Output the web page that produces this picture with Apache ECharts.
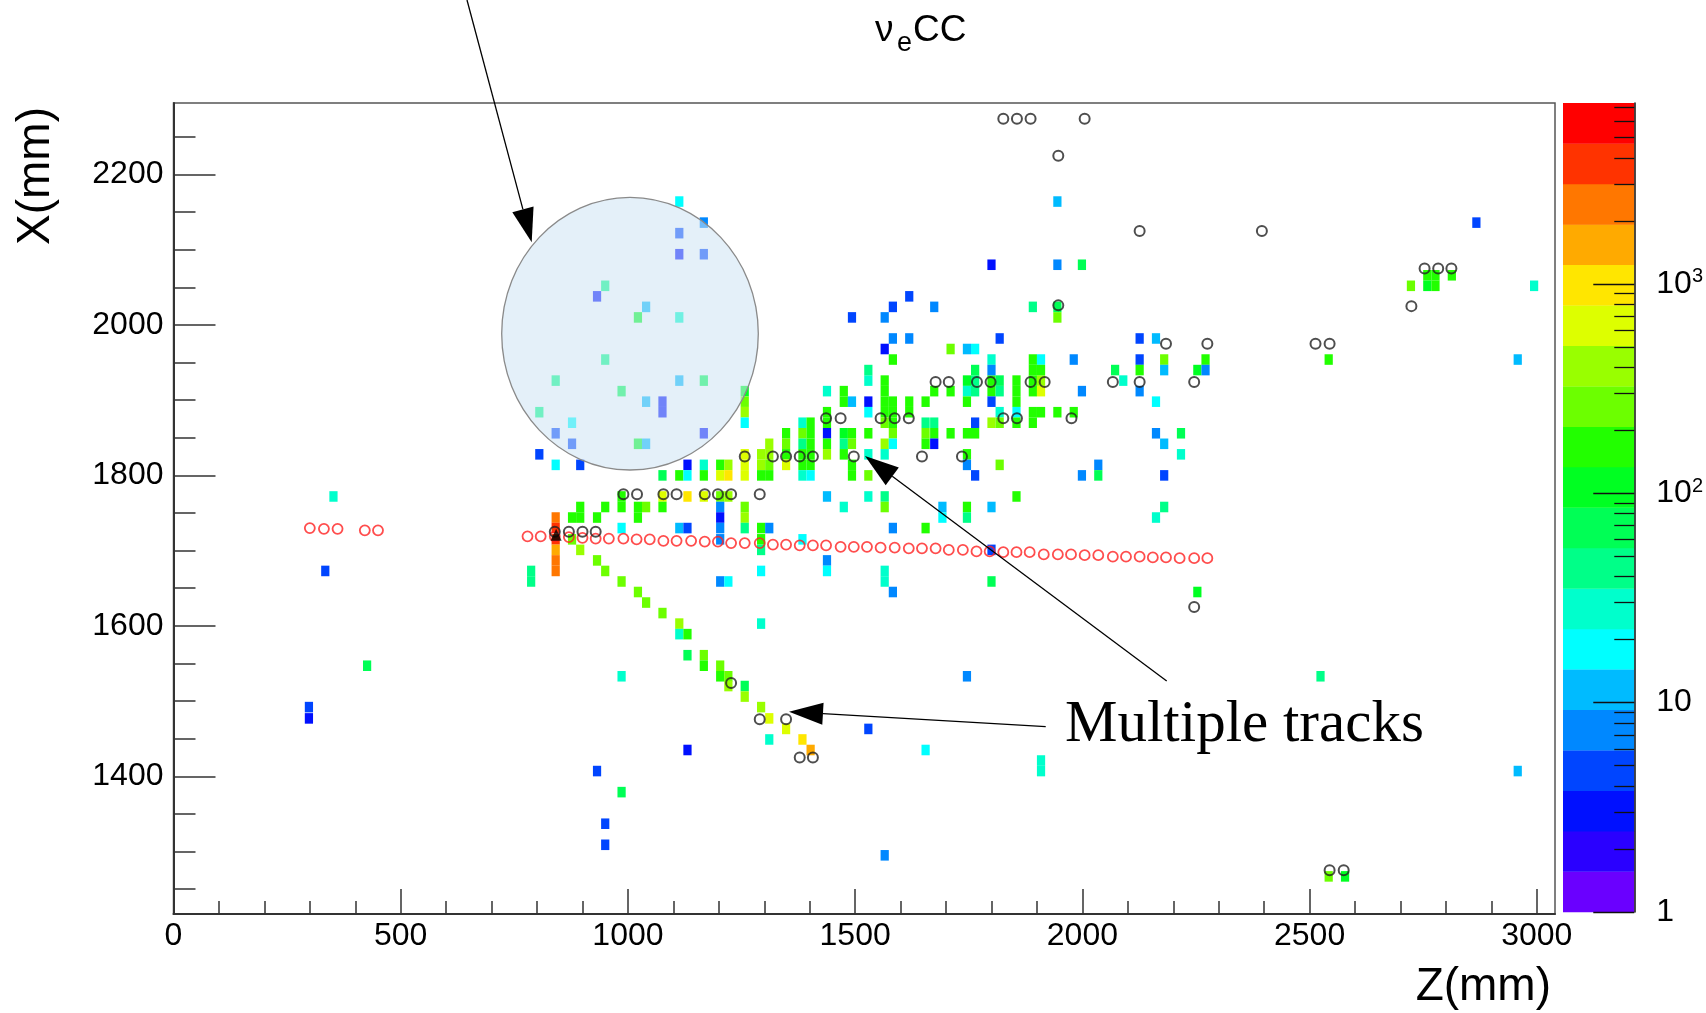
<!DOCTYPE html>
<html><head><meta charset="utf-8">
<script src="https://cdn.jsdelivr.net/npm/echarts@6/dist/echarts.min.js"></script>
<style>html,body{margin:0;padding:0;background:#fff}#c{width:1706px;height:1013px}</style>
</head><body><div id="c"></div>
<script>
// ---------- data ----------
const Z_RANGE = [0, 3040];          // Z (mm) axis range
const X_RANGE = [1217, 2295];       // X (mm) axis range
const Z_MAJOR = [0, 500, 1000, 1500, 2000, 2500, 3000];
const Z_MINOR = [100,200,300,400,600,700,800,900,1100,1200,1300,1400,1600,1700,1800,1900,2100,2200,2300,2400,2600,2700,2800,2900];
const X_MAJOR = [1400, 1600, 1800, 2000, 2200];
const X_MINOR = [1250,1300,1350,1450,1500,1550,1650,1700,1750,1850,1900,1950,2050,2100,2150,2250];
const COUNT_MAX = 7310;             // top of colour scale
const COLOR_DECADES = [0, 1, 2, 3]; // log10 of 1, 10, 100, 1000

// cells: [Z centre mm, X centre mm, counts]
const vertexCells = [
 [841,1744,2420],[841,1730,3800],[841,1715,3800],[841,1701,1550],[841,1687,2420],[841,1673,2420],
 [787,1673,44],[787,1659,44]
];
const lowerTrackCells = [
 [877,1715,260],[895,1701,407],[932,1687,260],[950,1673,260],[986,1659,260],
 [1022,1645,260],[1040,1631,260],[1076,1617,260],[1113,1603,407],[1113,1589,28],[1131,1589,167],
 [1131,1561,69],[1167,1561,260],[1167,1547,167],[1203,1547,260],[1203,1533,167],[1221,1533,260],
 [1221,1520,407],[1257,1520,69],[1257,1506,407],[1293,1492,407],[1311,1477,634],[1348,1463,634],
 [1311,1449,28],[1384,1449,990],[1402,1435,1550]
];
const circledCells = [
 [950,2052,44],[932,2038,3],[950,1954,44],[1113,2122,5],[1113,2094,3],[1167,2094,5],[1040,2024,12],
 [1022,2010,107],[1113,2010,28],[841,1926,44],[986,1912,69],[805,1884,44],[877,1870,18],[841,1856,5],
 [877,1842,5],[1113,1926,12],[1167,1926,69],[1040,1898,12],[1076,1898,3],[1076,1884,3],[1167,1856,3],
 [1022,1842,107],[1040,1842,12],[1113,2164,18],[1167,2136,7]
];
const showerCells = [
 [805,1828,5],[841,1814,18],[895,1814,5],
 [986,1772,167],[986,1758,167],[895,1758,167],[895,1744,167],[877,1744,167],[950,1758,167],[932,1744,167],[986,1730,18],
 [1529,1926,28],[1565,1926,167],[1746,1926,107],[1764,1926,44],[1800,1926,167],[1818,1926,69],[1855,1926,167],[1891,1926,167],[1909,1926,407],
 [1257,1912,107],[1438,1912,28],[1475,1912,167],[1565,1912,167],[1674,1912,167],[1710,1912,167],[1746,1912,28],[1764,1912,44],[1800,1912,167],[1818,1912,44],[1855,1912,167],[1891,1912,167],[1909,1912,634],[1999,1912,7],
 [1257,1898,260],[1475,1898,167],[1493,1898,12],[1529,1898,3],[1565,1898,167],[1583,1898,167],[1619,1898,167],[1655,1898,167],[1746,1898,167],[1800,1898,5],[1855,1898,167],
 [1257,1884,407],[1438,1884,167],[1529,1884,18],[1565,1884,167],[1583,1884,167],[1619,1884,167],[1818,1884,28],[1855,1884,18],[1891,1884,167],[1909,1884,167],[1945,1884,167],[1981,1884,167],
 [1257,1870,18],[1384,1870,28],[1402,1870,167],[1438,1870,167],[1565,1870,260],[1583,1870,167],[1655,1870,44],[1674,1870,44],[1764,1870,5],[1800,1870,407],[1818,1870,260],[1855,1870,167],[1891,1870,167],
 [1348,1856,167],[1384,1856,260],[1402,1856,167],[1438,1856,3],[1475,1856,107],[1493,1856,167],[1529,1856,167],[1583,1856,260],[1655,1856,260],[1674,1856,167],[1710,1856,167],[1746,1856,167],[1764,1856,167],
 [1311,1842,407],[1348,1842,260],[1384,1842,44],[1402,1842,167],[1438,1842,167],[1475,1842,44],[1493,1842,260],[1565,1842,407],[1583,1842,18],[1655,1842,167],[1674,1842,3],
 [1257,1828,634],[1293,1828,407],[1311,1828,407],[1348,1828,167],[1384,1828,167],[1402,1828,167],[1438,1828,407],[1475,1828,167],[1529,1828,28],[1565,1828,28],[1746,1828,167],
 [1131,1814,3],[1167,1814,28],[1203,1814,167],[1221,1814,407],[1257,1814,634],[1293,1814,407],[1311,1814,260],[1348,1814,634],[1384,1814,167],[1402,1814,167],[1493,1814,167],[1746,1814,7],[1818,1814,260],
 [1076,1800,69],[1113,1800,167],[1131,1800,18],[1167,1800,167],[1203,1800,634],[1221,1800,990],[1257,1800,634],[1293,1800,167],[1311,1800,167],[1384,1800,28],[1402,1800,18],[1493,1800,167],[1529,1800,260],[1764,1800,5],[1999,1800,7],
 [1076,1772,634],[1131,1772,990],[1167,1772,634],[1203,1772,260],[1221,1772,407],[1438,1772,12],[1529,1772,28],[1565,1772,44],[1855,1772,167],
 [1022,1758,167],[1040,1758,260],[1076,1758,167],[1203,1758,7],[1257,1758,260],[1475,1758,28],[1565,1758,260],[1692,1758,12],[1746,1758,167],[1800,1758,12],
 [1022,1744,167],[1203,1744,3],[1257,1744,407],[1692,1744,18],[1746,1744,44],
 [1113,1730,12],[1131,1730,5],[1203,1730,7],[1257,1730,44],[1293,1730,167],[1311,1730,7],[1583,1730,7],[1655,1730,167],
 [1203,1715,7],[1293,1715,167],[1384,1715,18],
 [1293,1701,44],[1800,1701,5],
 [1438,1687,7],
 [1293,1673,18],[1438,1673,18],[1565,1673,28],
 [1203,1659,7],[1221,1659,18],[1565,1659,28],[1800,1659,69],
 [1583,1645,7],[1293,1603,28]
];
const upperCells = [
 [1945,2164,12],[1800,2080,3],[1945,2080,7],[1999,2080,69],[1619,2038,5],[1583,2024,5],[1674,2024,7],
 [1891,2024,44],[1945,2024,69],[1493,2010,5],[1565,2010,7],[1945,2010,260],[1583,1982,7],[1619,1982,7],
 [1818,1982,5],[1565,1968,3],[1710,1968,260],[1746,1968,12],[1764,1968,18],[1583,1954,167],[1800,1954,28],
 [1891,1954,167],[1909,1954,18],[1981,1954,7],[1529,1940,44],[1764,1940,69],[1800,1940,7],[1891,1940,167],[1909,1940,167]
];
const rightCells = [
 [2867,2136,5],[2759,2066,167],[2777,2066,167],[2759,2052,107],[2777,2052,167],[2813,2066,167],[2723,2052,260],
 [2994,2052,28],[2126,1982,5],[2162,1982,12],[2126,1954,5],[2180,1954,260],[2271,1954,167],[2542,1954,167],
 [2958,1954,12],[2072,1940,69],[2126,1940,167],[2180,1940,12],[2253,1940,107],[2271,1940,7],
 [2090,1926,28],[2126,1912,7],[2162,1898,18],[2162,1856,7],[2217,1856,69],[2180,1842,12],[2217,1828,28],
 [2035,1814,7],[2035,1800,69],[2180,1800,5],[2180,1758,44],[2162,1744,28],[2253,1645,107]
];
const isolatedCells = [
 [352,1772,28],[334,1673,5],[426,1547,69],[986,1533,28],[298,1492,5],[298,1477,3],[932,1407,5],
 [986,1379,69],[950,1337,5],[950,1309,5],[1131,1435,3],[1529,1463,5],[1746,1533,7],[1655,1435,18],
 [1909,1421,28],[1909,1407,28],[1565,1295,7],[2524,1533,44],[2958,1407,12],[2542,1267,260],[2578,1267,107]
];
// reconstructed hits: [Z, X]
const blackHits = [
 [1826,2274],[1856,2274],[1886,2274],[2005,2274],[1947,2225],[1947,2026],
 [2126,2125],[2395,2125],[2753,2075],[2783,2075],[2812,2075],[2724,2025],
 [2184,1975],[2275,1975],[2513,1975],[2544,1975],
 [1677,1924],[1706,1924],[1768,1924],[1798,1924],[1886,1924],[1917,1924],[2067,1924],[2126,1924],[2246,1924],
 [1436,1876],[1468,1876],[1556,1876],[1587,1876],[1618,1876],[1826,1876],[1856,1876],[1976,1876],
 [1257,1825],[1319,1825],[1348,1825],[1378,1825],[1407,1825],[1497,1825],[1647,1825],[1735,1825],
 [990,1775],[1020,1775],[1078,1775],[1107,1775],[1169,1775],[1198,1775],[1227,1775],[1290,1775],
 [839,1725],[870,1725],[900,1725],[929,1725],
 [1227,1524],[1290,1476],[1348,1476],[1378,1425],[1407,1425],
 [2246,1625],[2544,1275],[2575,1275]
];
const redTrack = [
 [300,1730],[331,1729],[361,1729],[421,1727],[450,1727],
 [779,1719],[808,1719],[839,1719],[870,1718],[900,1717],[929,1716],[958,1716],[990,1716],[1019,1715],
 [1048,1715],[1078,1713],[1107,1713],[1139,1713],[1169,1712],[1198,1712],[1227,1710],[1257,1710],[1290,1710],
 [1319,1708],[1348,1708],[1378,1707],[1407,1707],[1436,1707],[1468,1705],[1497,1705],[1526,1705],[1556,1704],
 [1587,1704],[1618,1703],[1647,1703],[1677,1703],[1706,1701],[1737,1701],[1767,1699],[1796,1699],[1826,1698],
 [1855,1698],[1884,1698],[1915,1695],[1946,1695],[1975,1695],[2005,1694],[2035,1694],[2067,1692],[2096,1692],
 [2126,1692],[2155,1691],[2184,1691],[2214,1690],[2246,1690],[2275,1690]
];
const vertexPoint = [[842,1721]];

// ---------- styling ----------
const BIN_DZ = 18.1, BIN_DX = 14.05;
const PALETTE = ['#6a00ff','#2a00ff','#0010ff','#0045ff','#0088ff','#00bbff','#00ffff','#00ffcc','#00ff88','#00ff55',
                 '#00ff22','#22ff00','#6cff00','#99ff00','#ddff00','#ffe600','#ffaa00','#ff7700','#ff3300','#ff0000'];
const LOG_MAX = Math.log10(COUNT_MAX);
const FONT = '"Liberation Sans", Arial, sans-serif';

function bandColor(n) {
  let b = Math.floor(Math.log10(n) / LOG_MAX * PALETTE.length);
  b = Math.max(0, Math.min(PALETTE.length - 1, b));
  return PALETTE[b];
}
function cellItem(params, api) {
  const z = api.value(0), x = api.value(1), n = api.value(2);
  const a = api.coord([z - BIN_DZ / 2, x + BIN_DX / 2]);
  const b = api.coord([z + BIN_DZ / 2, x - BIN_DX / 2]);
  return { type: 'rect', shape: { x: a[0], y: a[1], width: b[0] - a[0], height: b[1] - a[1] },
           style: { fill: bandColor(n) } };
}
function bandItem(params, api) {
  const i = api.value(2), step = LOG_MAX / PALETTE.length;
  const a = api.coord([0, (i + 1) * step]);
  const b = api.coord([1, i * step]);
  return { type: 'rect', shape: { x: a[0], y: a[1], width: b[0] - a[0], height: b[1] - a[1] + 0.3 },
           style: { fill: PALETTE[i] } };
}
const allCells = [].concat(vertexCells, lowerTrackCells, circledCells, showerCells, upperCells, rightCells, isolatedCells);
const colorMinor = [];
COLOR_DECADES.forEach(d => { for (let k = 2; k <= 9; k++) { const v = d + Math.log10(k); if (v < LOG_MAX) colorMinor.push(v); } });

function arrow(x1, y1, x2, y2) {
  const L = 34, H = 11;
  const dx = x2 - x1, dy = y2 - y1, d = Math.hypot(dx, dy), ux = dx / d, uy = dy / d;
  const bx = x2 - ux * L, by = y2 - uy * L;
  return [
    { type: 'line', z: 30, shape: { x1: x1, y1: y1, x2: bx, y2: by }, style: { stroke: '#000', lineWidth: 1.3 } },
    { type: 'polygon', z: 30, shape: { points: [[x2, y2], [bx - uy * H, by + ux * H], [bx + uy * H, by - ux * H]] }, style: { fill: '#000' } }
  ];
}

const plain = v => String(v);
const tickLine = { color: '#333', width: 1.5 };
const chart = echarts.init(document.getElementById('c'), null, { renderer: 'canvas' });
chart.setOption({
  animation: false,
  backgroundColor: '#fff',
  grid: [
    { left: 173.5, top: 103, width: 1381.5, height: 811, show: true, borderColor: '#555', borderWidth: 1.5, backgroundColor: 'transparent' },
    { left: 1563, top: 103, width: 80, height: 809 }
  ],
  xAxis: [
    { gridIndex: 0, type: 'value', min: Z_RANGE[0], max: Z_RANGE[1], position: 'bottom',
      axisLine: { show: true, onZero: false, lineStyle: { color: '#333', width: 2 } },
      axisTick: { show: true, inside: true, length: 25, customValues: Z_MAJOR, lineStyle: tickLine },
      axisLabel: { customValues: Z_MAJOR, formatter: plain, fontSize: 32, color: '#000', margin: 6, fontFamily: FONT },
      splitLine: { show: false } },
    { gridIndex: 0, type: 'value', min: Z_RANGE[0], max: Z_RANGE[1], position: 'bottom',
      axisLine: { show: false, onZero: false },
      axisTick: { show: true, inside: true, length: 13, customValues: Z_MINOR, lineStyle: tickLine },
      axisLabel: { show: false }, splitLine: { show: false } },
    { gridIndex: 1, type: 'value', min: 0, max: 1, show: false, axisLine: { onZero: false } }
  ],
  yAxis: [
    { gridIndex: 0, type: 'value', min: X_RANGE[0], max: X_RANGE[1], position: 'left',
      axisLine: { show: true, onZero: false, lineStyle: { color: '#333', width: 2 } },
      axisTick: { show: true, inside: true, length: 42, customValues: X_MAJOR, lineStyle: tickLine },
      axisLabel: { customValues: X_MAJOR, formatter: plain, fontSize: 32, color: '#000', margin: 10, fontFamily: FONT },
      splitLine: { show: false } },
    { gridIndex: 0, type: 'value', min: X_RANGE[0], max: X_RANGE[1], position: 'left',
      axisLine: { show: false, onZero: false },
      axisTick: { show: true, inside: true, length: 22, customValues: X_MINOR, lineStyle: tickLine },
      axisLabel: { show: false }, splitLine: { show: false } },
    { gridIndex: 1, type: 'value', min: 0, max: LOG_MAX, position: 'right', z: 5,
      axisLine: { show: true, onZero: false, lineStyle: { color: '#111', width: 1.5 } },
      axisTick: { show: true, inside: true, length: 41, customValues: COLOR_DECADES, lineStyle: { color: '#111', width: 1.3 } },
      axisLabel: { customValues: COLOR_DECADES, margin: 22, fontFamily: FONT, color: '#000',
        formatter: v => { const d = Math.round(v); return d === 0 ? '{b|1}' : d === 1 ? '{b|10}' : '{b|10}{s|' + d + '}'; },
        rich: { b: { fontSize: 32, lineHeight: 34, fontFamily: FONT, color: '#000' },
                s: { fontSize: 20, lineHeight: 16, verticalAlign: 'top', fontFamily: FONT, color: '#000' } } },
      splitLine: { show: false } },
    { gridIndex: 1, type: 'value', min: 0, max: LOG_MAX, position: 'right', z: 5,
      axisLine: { show: false, onZero: false },
      axisTick: { show: true, inside: true, length: 20, customValues: colorMinor, lineStyle: { color: '#111', width: 1.3 } },
      axisLabel: { show: false }, splitLine: { show: false } }
  ],
  series: [
    { type: 'custom', name: 'hits', xAxisIndex: 0, yAxisIndex: 0, renderItem: cellItem, data: allCells, clip: true, silent: true, z: 2 },
    { type: 'custom', name: 'palette', xAxisIndex: 2, yAxisIndex: 2, renderItem: bandItem,
      data: PALETTE.map((c, i) => [0.5, (i + 0.5) * LOG_MAX / PALETTE.length, i]), silent: true, z: 1 },
    { type: 'scatter', name: 'track', xAxisIndex: 0, yAxisIndex: 0, data: redTrack, symbol: 'circle', symbolSize: 10,
      itemStyle: { color: 'rgba(0,0,0,0)', borderColor: '#ff2020', borderWidth: 1.8 }, silent: true, z: 20 },
    { type: 'scatter', name: 'reco', xAxisIndex: 0, yAxisIndex: 0, data: blackHits, symbol: 'circle', symbolSize: 10,
      itemStyle: { color: 'rgba(0,0,0,0)', borderColor: '#222', borderWidth: 2 }, silent: true, z: 21 },
    { type: 'scatter', name: 'vertex', xAxisIndex: 0, yAxisIndex: 0, data: vertexPoint, symbol: 'triangle', symbolSize: [11, 12],
      itemStyle: { color: '#000' }, silent: true, z: 22 }
  ],
  graphic: [
    { type: 'ellipse', z: 10, shape: { cx: 630, cy: 333.7, rx: 128.3, ry: 136.3 },
      style: { fill: 'rgba(205,228,244,0.55)', stroke: '#8a8a8a', lineWidth: 1.3 } },
    ...arrow(467, 0, 531.7, 242.3),
    ...arrow(1045.7, 726.7, 789, 711.7),
    ...arrow(1166.7, 681, 865, 456),
    { type: 'text', z: 30, x: 1065, y: 725, style: { text: 'Multiple tracks', font: '59px "Liberation Serif", "Times New Roman", serif', fill: '#000', align: 'left', verticalAlign: 'middle' } },
    { type: 'text', z: 30, x: 875, y: 31, style: { text: 'ν', font: '37px ' + FONT, fill: '#000', align: 'left', verticalAlign: 'middle' } },
    { type: 'text', z: 30, x: 897, y: 44, style: { text: 'e', font: '27px ' + FONT, fill: '#000', align: 'left', verticalAlign: 'middle' } },
    { type: 'text', z: 30, x: 913, y: 31, style: { text: 'CC', font: '37px ' + FONT, fill: '#000', align: 'left', verticalAlign: 'middle' } },
    { type: 'text', z: 30, x: 36, y: 176, rotation: Math.PI / 2, style: { text: 'X(mm)', font: '46px ' + FONT, fill: '#000', align: 'center', verticalAlign: 'middle' } },
    { type: 'text', z: 30, x: 1551, y: 987, style: { text: 'Z(mm)', font: '46px ' + FONT, fill: '#000', align: 'right', verticalAlign: 'middle' } }
  ]
});
</script>
</body></html>
